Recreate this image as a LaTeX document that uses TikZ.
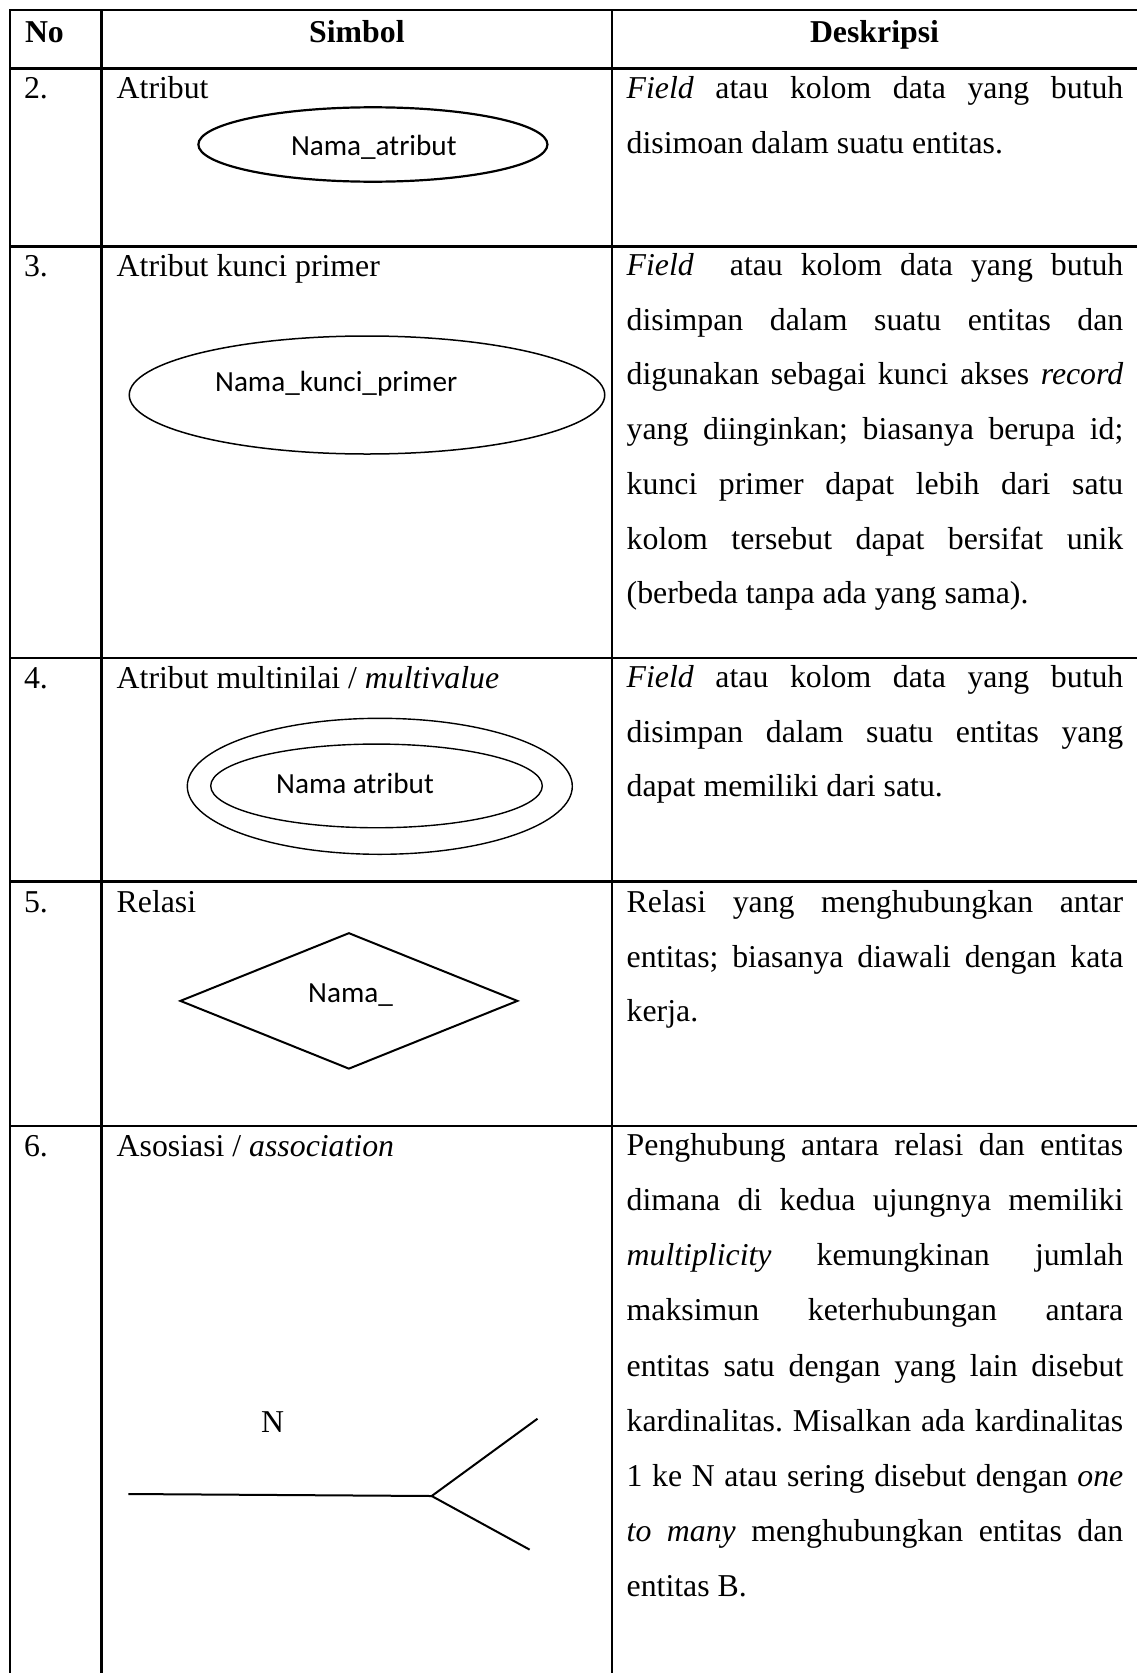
\documentclass[tikz,border=0pt]{standalone}
\usepackage{fontspec}
\setmainfont{Liberation Serif}
\newfontfamily\calfont{Carlito}
\usetikzlibrary{shapes.geometric}
\newcommand\bodyfont{\fontsize{31.8pt}{55pt}\selectfont\frenchspacing}
\newcommand\labfont{\calfont\fontsize{29.2pt}{35pt}\selectfont}
\newlength\descw \setlength\descw{496.6pt}
\newcommand\djust[3]{\node[txt] (#1) at (626.7,#2) {\makebox[\descw][s]{#3}};}
\newcommand\dleft[3]{\node[txt] (#1) at (626.7,#2) {#3};}
\begin{document}
\begin{tikzpicture}[x=1pt,y=-1pt,
  tline/.style={line width=2.6pt},
  txt/.style={inner sep=0pt,outer sep=0pt,anchor=base west,font=\bodyfont},
  hdr/.style={inner sep=0pt,outer sep=0pt,anchor=base,font=\bodyfont\bfseries},
  lab/.style={inner sep=0pt,outer sep=0pt,anchor=base,font=\labfont},
  shp/.style={draw,inner sep=0pt,line width=1.6pt},
  assoc/.style={line width=2pt}]
\useasboundingbox (0,0) rectangle (1137,1673);
\fill[white] (0,0) rectangle (1137,1673);

% table grid
\draw[tline] (1137,10) -- (10,10) -- (10,1673);
\draw[tline] (101.7,10) -- (101.7,1673);
\draw[tline] (612,10) -- (612,1673);
\foreach \yy in {68.3,246.5,658,881.7,1126} \draw[tline] (10,\yy) -- (1137,\yy);

% header
\node[hdr,anchor=base west] (hno) at (25,42) {No};
\node[hdr] (hsim) at (356.9,42) {Simbol};
\node[hdr] (hdes) at (874.5,42) {Deskripsi};

% row 2
\node[txt] (n2) at (24,98.5) {2.};
\node[txt] (s2) at (116.7,98.5) {Atribut};
\node[shp,ellipse,minimum width=349.1pt,minimum height=74.4pt,line width=2.2pt] (e2) at (372.9,144.5) {};
\node[lab] (l2) at (373.8,155) {Nama\_atribut};
\djust{d21}{98.5}{\textit{Field} atau kolom data yang butuh}
\dleft{d22}{153.5}{disimoan dalam suatu entitas.}

% row 3
\node[txt] (n3) at (24,276.5) {3.};
\node[txt] (s3) at (116.7,276.5) {Atribut kunci primer};
\node[shp,ellipse,minimum width=475.5pt,minimum height=118pt,line width=1.5pt] (e3) at (367,395) {};
\node[lab] (l3) at (336.2,391) {Nama\_kunci\_primer};
\djust{d31}{275.5}{\textit{Field}\ \ atau kolom data yang butuh}
\djust{d32}{330.2}{disimpan dalam suatu entitas dan}
\djust{d33}{384.9}{digunakan sebagai kunci akses \textit{record}}
\djust{d34}{439.6}{yang diinginkan; biasanya berupa id;}
\djust{d35}{494.3}{kunci primer dapat lebih dari satu}
\djust{d36}{549}{kolom tersebut dapat bersifat unik}
\dleft{d37}{603.7}{(berbeda tanpa ada yang sama).}

% row 4
\node[txt] (n4) at (24,688.5) {4.};
\node[txt] (s4) at (116.7,688.5) {Atribut multinilai / \textit{multivalue}};
\node[shp,ellipse,minimum width=385pt,minimum height=136pt,line width=1.4pt] (e4o) at (379.8,786.3) {};
\node[shp,ellipse,minimum width=331.6pt,minimum height=83.7pt,line width=1.4pt] (e4i) at (376.5,785.9) {};
\node[lab] (l4) at (355,793.5) {Nama atribut};
\djust{d41}{687.5}{\textit{Field} atau kolom data yang butuh}
\djust{d42}{742.2}{disimpan dalam suatu entitas yang}
\dleft{d43}{796.9}{dapat memiliki dari satu.}

% row 5
\node[txt] (n5) at (24,912.5) {5.};
\node[txt] (s5) at (116.7,912.5) {Relasi};
\node[shp,diamond,minimum width=337.8pt,minimum height=136.3pt,line width=2pt] (r5) at (348.9,1000.9) {};
\node[lab] (l5) at (350.5,1002) {Nama\_};
\djust{d51}{912.5}{Relasi yang menghubungkan antar}
\djust{d52}{967.2}{entitas; biasanya diawali dengan kata}
\dleft{d53}{1021.9}{kerja.}

% row 6
\node[txt] (n6) at (24,1156.5) {6.};
\node[txt] (s6) at (116.7,1156.5) {Asosiasi / \textit{association}};
\node[txt,anchor=base] (nn) at (272.5,1432.3) {N};
\coordinate (a0) at (128.3,1494);
\coordinate (aj) at (431.7,1496);
\coordinate (au) at (537.5,1418.7);
\coordinate (al) at (529.6,1549.6);
\draw[assoc] (a0) -- (aj) -- (au);
\draw[assoc] (aj) -- (al);
\djust{d61}{1155.5}{Penghubung antara relasi dan entitas}
\djust{d62}{1210.6}{dimana di kedua ujungnya memiliki}
\djust{d63}{1265.8}{\textit{multiplicity} kemungkinan jumlah}
\djust{d64}{1320.9}{maksimun keterhubungan antara}
\djust{d65}{1376.1}{entitas satu dengan yang lain disebut}
\djust{d66}{1431.2}{kardinalitas. Misalkan ada kardinalitas}
\djust{d67}{1486.4}{1 ke N atau sering disebut dengan \textit{one}}
\djust{d68}{1541.5}{\textit{to many} menghubungkan entitas dan}
\dleft{d69}{1596.7}{entitas B.}
\end{tikzpicture}
\end{document}
